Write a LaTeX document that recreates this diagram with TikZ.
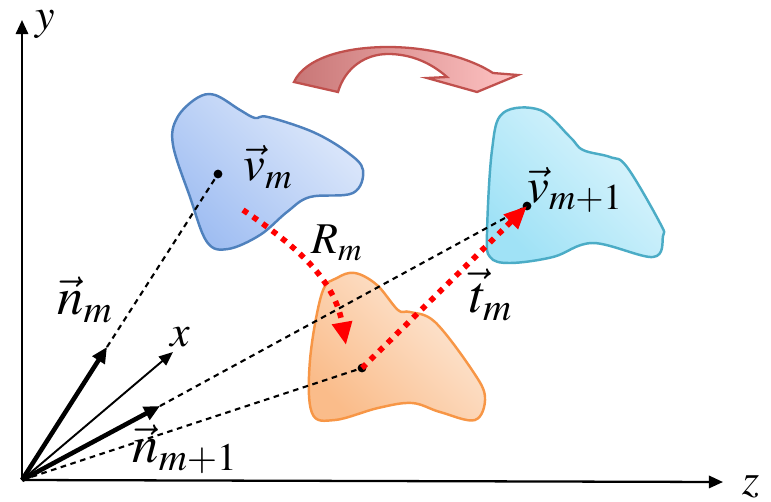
\documentclass[tikz,border=0pt]{standalone}
\usepackage{mathptmx}
\usepackage{xcolor}
\definecolor{blobblue}{RGB}{79,129,189}
\definecolor{blobbluedark}{RGB}{160,190,242}
\definecolor{blobbluelight}{RGB}{224,234,251}
\definecolor{blobcyan}{RGB}{75,172,198}
\definecolor{blobcyandark}{RGB}{160,226,246}
\definecolor{blobcyanlight}{RGB}{224,246,253}
\definecolor{blobor}{RGB}{247,150,70}
\definecolor{blobordark}{RGB}{250,188,138}
\definecolor{bloborlight}{RGB}{253,234,218}
\definecolor{arcedge}{RGB}{192,80,77}
\definecolor{arcdark}{RGB}{200,118,118}
\definecolor{arclight}{RGB}{255,196,196}
\usetikzlibrary{arrows.meta}
\tikzset{
    blob/.style n args={3}{draw=#1, line width=1.4pt, top color=#3, bottom color=#2,
                           shading angle=-45},
}

\begin{document}
\begin{tikzpicture}[x=0.02cm, y=-0.02cm,
    axis/.style={line width=1.3pt, -{Triangle[length=8pt, width=7pt]}},
    normal/.style={line width=2.6pt, -{Triangle[length=9pt, width=8pt]}},
    thinarr/.style={line width=1.1pt, -{Triangle[length=8pt, width=6.5pt]}},
    ray/.style={line width=1.2pt, dash pattern=on 3.2pt off 2.6pt},
    motion/.style={red, line width=3.2pt, dash pattern=on 3.2pt off 3.6pt,
                   -{Triangle[length=13pt, width=11pt]}},
    pt/.style={circle, fill=black, inner sep=0pt, minimum size=5pt},
    lbl/.style={inner sep=0pt, font=\fontsize{28}{32}\selectfont},
    axlbl/.style={inner sep=0pt, font=\fontsize{25}{28}\selectfont},
]
\useasboundingbox (0,0) rectangle (771,501);

% ===== blobs =====
\draw[blob={blobblue}{blobbluedark}{blobbluelight}] plot[smooth cycle, tension=0.6] coordinates {
  (197,98) (215,95) (240,110) (255,118) (268,117) (313,132) (347,152) (363,170)
  (353,193) (310,197) (287,212) (260,235) (228,249) (207,242) (190,197) (173,145) (177,118)};
\draw[blob={blobcyan}{blobcyandark}{blobcyanlight}] plot[smooth cycle, tension=0.6] coordinates {
  (503,113) (540,110) (570,137) (583,150) (610,157) (627,167) (660,223) (663,236)
  (653,257) (593,243) (553,257) (510,263) (490,257) (487,233) (492,150)};
\draw[blob={blobor}{blobordark}{bloborlight}] plot[smooth cycle, tension=0.6] coordinates {
  (355,273) (377,285) (398,310) (410,312) (435,322) (472,370) (485,397) (475,420)
  (440,412) (412,403) (378,408) (335,420) (312,413) (310,360) (322,293) (337,278)};

% ===== curved arrow on top =====
\draw[arcedge, line width=1.3pt, left color=arcdark, right color=arclight]
  (294,82) .. controls (305,58) and (345,47) .. (388,47)
           .. controls (430,47) and (470,58) .. (493,73)
  -- (518,75) -- (477,92) -- (427,78) -- (447,77)
           .. controls (430,62) and (410,54) .. (388,54)
           .. controls (365,54) and (345,68) .. (338,92) -- cycle;

% ===== points =====
\coordinate (O) at (22,480);
\node[pt] (vm)  at (218,174) {};
\node[pt] (vm1) at (527,206) {};
\node[pt] (vo)  at (362,368) {};
\coordinate (ytip) at (22,20);
\coordinate (ztip) at (723,482);
\coordinate (xtip) at (173,352);
\coordinate (nmtip) at (107,347);
\coordinate (nm1tip) at (160,406);
\coordinate (rstart) at (243,210);
\coordinate (rend) at (346,345);

% axes
\draw[axis] (O) -- (ytip);
\draw[axis] (O) -- (ztip);
\draw[thinarr] (O) -- (xtip);
\node[axlbl] (ylab) at (45,24) {$y$};
\node[axlbl] (zlab) at (751,487) {$z$};
\node[axlbl] (xlab) at (180,337) {$x$};

% rays
\draw[ray] (nmtip) -- (vm.center);
\draw[ray] (nm1tip) -- (vm1.center);
\draw[ray] (O) -- (vo.center);

% normals
\draw[normal] (O) -- (nmtip);
\draw[normal] (O) -- (nm1tip);

% rotation and translation
\draw[motion] (rstart) to[out=-34, in=100] (rend);
\draw[motion] (vo.center) -- (vm1.center);

% labels
\node[lbl] (vmlab)  at (268,167) {$\vec{v}_m$};
\node[lbl] (vm1lab) at (575,190) {$\vec{v}_{m+1}$};
\node[lbl, font=\fontsize{25}{28}\selectfont] (rlab) at (337,243) {$R_m$};
\node[lbl, font=\fontsize{30}{34}\selectfont] (tlab) at (491,295) {$\vec{t}_m$};
\node[lbl, font=\fontsize{30}{34}\selectfont] (nmlab) at (85,300) {$\vec{n}_m$};
\node[lbl, font=\fontsize{30}{34}\selectfont] (nm1lab) at (185,449) {$\vec{n}_{m+1}$};
\end{tikzpicture}
\end{document}
